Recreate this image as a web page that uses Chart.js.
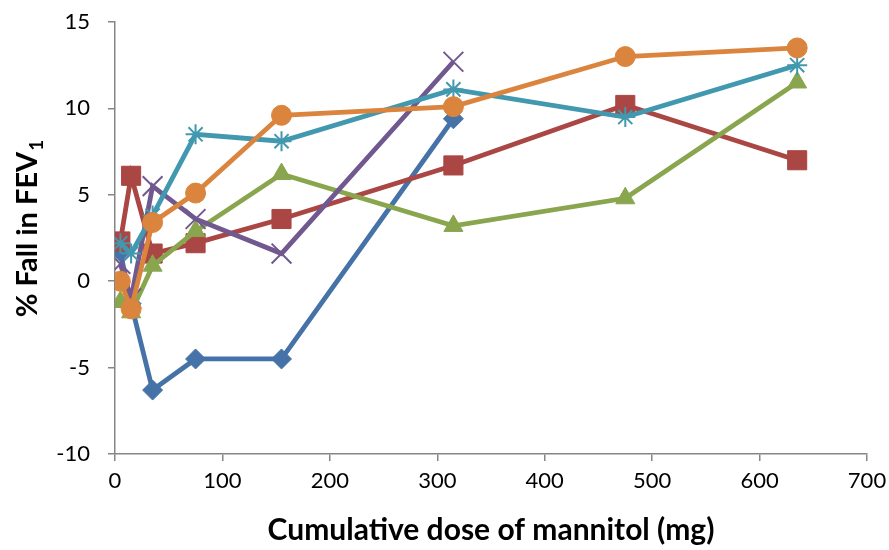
<!DOCTYPE html>
<html>
<head>
<meta charset="utf-8">
<script src="https://cdn.jsdelivr.net/npm/chart.js@4.4.1/dist/chart.umd.min.js"></script>
<style>
  html, body { margin: 0; padding: 0; background: #fff; }
  #wrap { width: 889px; height: 550px; position: relative; }
</style>
</head>
<body>
<div id="wrap"><canvas id="chart"></canvas></div>
<script>
// cumulative mannitol doses (mg)
const doses = [5, 15, 35, 75, 155, 315, 475, 635];

// % fall in FEV1 per subject
const subj1 = [1.7, -1.3, -6.3, -4.5, -4.5, 9.4];
const subj2 = [2.3, 6.1, 1.6, 2.2, 3.6, 6.7, 10.2, 7.0];
const subj3 = [-1.2, -1.8, 0.9, 2.9, 6.2, 3.2, 4.8, 11.5];
const subj4 = [1.0, -1.0, 5.5, 3.6, 1.6, 12.7];
const subj5 = [2.2, 1.6, 3.8, 8.5, 8.1, 11.1, 9.5, 12.5];
const subj6 = [0.0, -1.6, 3.4, 5.1, 9.6, 10.1, 13.0, 13.5];

const xTicks = [0, 100, 200, 300, 400, 500, 600, 700];
const yTicks = [-10, -5, 0, 5, 10, 15];

const FONT = "Lato, 'Noto Sans', sans-serif";
const AXIS = "#868686";

function pts(vals) {
  return vals.map((v, i) => ({ x: doses[i], y: v }));
}

function series(vals, color, style, radius, order, bw) {
  return {
    data: pts(vals),
    showLine: true,
    borderColor: color,
    backgroundColor: color,
    borderWidth: 4.8,
    pointStyle: style,
    pointRadius: radius,
    pointHoverRadius: radius,
    pointBorderColor: color,
    pointBackgroundColor: color,
    pointBorderWidth: bw,
    order: order
  };
}

// rotated y title with subscript "1"
const yTitle = {
  id: "yTitle",
  afterDraw(chart) {
    const ctx = chart.ctx;
    ctx.save();
    ctx.translate(37, 229);
    ctx.rotate(-Math.PI / 2);
    ctx.fillStyle = "#000";
    ctx.textBaseline = "alphabetic";
    ctx.font = "bold 29px " + FONT;
    const main = "% Fall in FEV";
    const w1 = ctx.measureText(main).width;
    ctx.font = "bold 19px " + FONT;
    const w2 = ctx.measureText("1").width;
    const x0 = -(w1 + w2) / 2;
    ctx.font = "bold 29px " + FONT;
    ctx.fillText(main, x0, 0);
    ctx.font = "bold 19px " + FONT;
    ctx.fillText("1", x0 + w1 + 1, 6);
    ctx.restore();
  }
};

new Chart(document.getElementById("chart"), {
  type: "scatter",
  data: {
    datasets: [
      series(subj1, "#4572A7", "rectRot", 10, 5, 1),
      series(subj2, "#AA4643", "rect", 13.5, 4, 1),
      series(subj3, "#89A54E", "triangle", 11, 3, 1),
      series(subj4, "#71588F", "crossRot", 14, 2, 2),
      series(subj5, "#4198AF", "star", 10, 1, 2),
      series(subj6, "#DB843D", "circle", 10, 0, 1)
    ]
  },
  options: {
    responsive: true,
    maintainAspectRatio: false,
    animation: false,
    layout: { padding: { top: 22, right: 22, left: 0, bottom: 0 } },
    plugins: {
      legend: { display: false },
      tooltip: { enabled: false }
    },
    scales: {
      x: {
        type: "linear",
        min: 0, max: 700,
        afterFit: s => { s.height = 96; s.paddingLeft = 0; s.paddingRight = 0; },
        afterBuildTicks: s => { s.ticks = xTicks.map(v => ({ value: v })); },
        grid: { drawOnChartArea: false, drawTicks: true, tickLength: 7, color: AXIS, lineWidth: 1.5 },
        border: { color: AXIS, width: 1.5 },
        ticks: { font: { family: FONT, size: 22 }, color: "#000", padding: 7, maxRotation: 0 },
        title: {
          display: true,
          text: "Cumulative dose of mannitol (mg)",
          font: { family: FONT, size: 30, weight: "bold" },
          color: "#000",
          padding: { top: 4, bottom: 2 }
        }
      },
      y: {
        min: -10, max: 15,
        afterFit: s => { s.width = 115; s.paddingTop = 0; s.paddingBottom = 0; },
        afterBuildTicks: s => { s.ticks = yTicks.map(v => ({ value: v })); },
        grid: { drawOnChartArea: false, drawTicks: true, tickLength: 7, color: AXIS, lineWidth: 1.5 },
        border: { color: AXIS, width: 1.5 },
        ticks: { font: { family: FONT, size: 22 }, color: "#000", padding: 18 }
      }
    }
  },
  plugins: [yTitle]
});
</script>
</body>
</html>
